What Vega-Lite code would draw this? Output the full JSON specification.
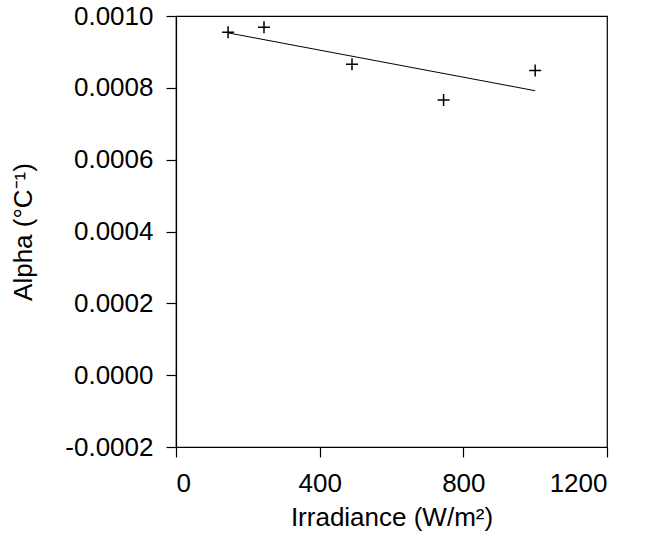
{
  "$schema": "https://vega.github.io/schema/vega-lite/v6.json",
  "autosize": {"type": "none"},
  "padding": {"left": 176, "top": 16, "right": 44, "bottom": 92},
  "width": 431,
  "height": 431,
  "background": "white",
  "config": {
    "locale": {"number": {"decimal": ".", "thousands": ",", "grouping": [3], "currency": ["$", ""], "minus": "-"}},
    "view": {"stroke": "black", "strokeWidth": 1.2},
    "font": "Liberation Sans",
    "axis": {
      "grid": false,
      "domainColor": "black",
      "domainWidth": 1.2,
      "tickColor": "black",
      "tickWidth": 1.2,
      "tickSize": 10,
      "labelColor": "black",
      "labelFont": "Liberation Sans",
      "labelFontSize": 26,
      "titleFont": "Liberation Sans",
      "titleFontSize": 26,
      "titleFontWeight": "normal",
      "titleColor": "black",
      "labelPadding": 13
    }
  },
  "datasets": {
    "points": [
      {"irradiance": 145, "alpha": 0.000955},
      {"irradiance": 245, "alpha": 0.000969},
      {"irradiance": 490, "alpha": 0.000866},
      {"irradiance": 745, "alpha": 0.000766},
      {"irradiance": 1000, "alpha": 0.000848}
    ],
    "fit": [
      {"irradiance": 145, "alpha": 0.000953},
      {"irradiance": 1000, "alpha": 0.000792}
    ],
    "xminor": [
      {"irradiance": 200}, {"irradiance": 600}, {"irradiance": 1000}
    ],
    "yminor": [
      {"alpha": -0.0001}, {"alpha": 0.0001}, {"alpha": 0.0003}, {"alpha": 0.0005}, {"alpha": 0.0007}, {"alpha": 0.0009}
    ]
  },
  "encoding": {
    "x": {
      "field": "irradiance", "type": "quantitative",
      "title": "Irradiance (W/m²)",
      "scale": {"domain": [0, 1200], "nice": false, "zero": false},
      "axis": {"values": [0, 400, 800, 1200], "format": "d", "titlePadding": 8}
    },
    "y": {
      "field": "alpha", "type": "quantitative",
      "title": "Alpha (°C⁻¹)",
      "scale": {"domain": [-0.0002, 0.001], "nice": false, "zero": false},
      "axis": {"values": [-0.0002, 0, 0.0002, 0.0004, 0.0006, 0.0008, 0.001], "format": ".4f", "titlePadding": 28}
    }
  },
  "layer": [
    {
      "data": {"name": "fit"},
      "mark": {"type": "line", "color": "black", "strokeWidth": 1}
    },
    {
      "data": {"name": "points"},
      "mark": {"type": "point", "shape": "M-1,0H1M0,-1V1", "size": 144, "color": "black", "strokeWidth": 1.5, "filled": false, "opacity": 1}
    },
    {
      "data": {"name": "xminor"},
      "mark": {"type": "tick", "orient": "vertical", "color": "black", "thickness": 1.2, "size": 6, "yOffset": 3, "opacity": 1},
      "encoding": {"y": {"datum": -0.0002}}
    },
    {
      "data": {"name": "yminor"},
      "mark": {"type": "tick", "orient": "horizontal", "color": "black", "thickness": 1.2, "size": 6, "xOffset": -3, "opacity": 1},
      "encoding": {"x": {"datum": 0}}
    }
  ]
}
